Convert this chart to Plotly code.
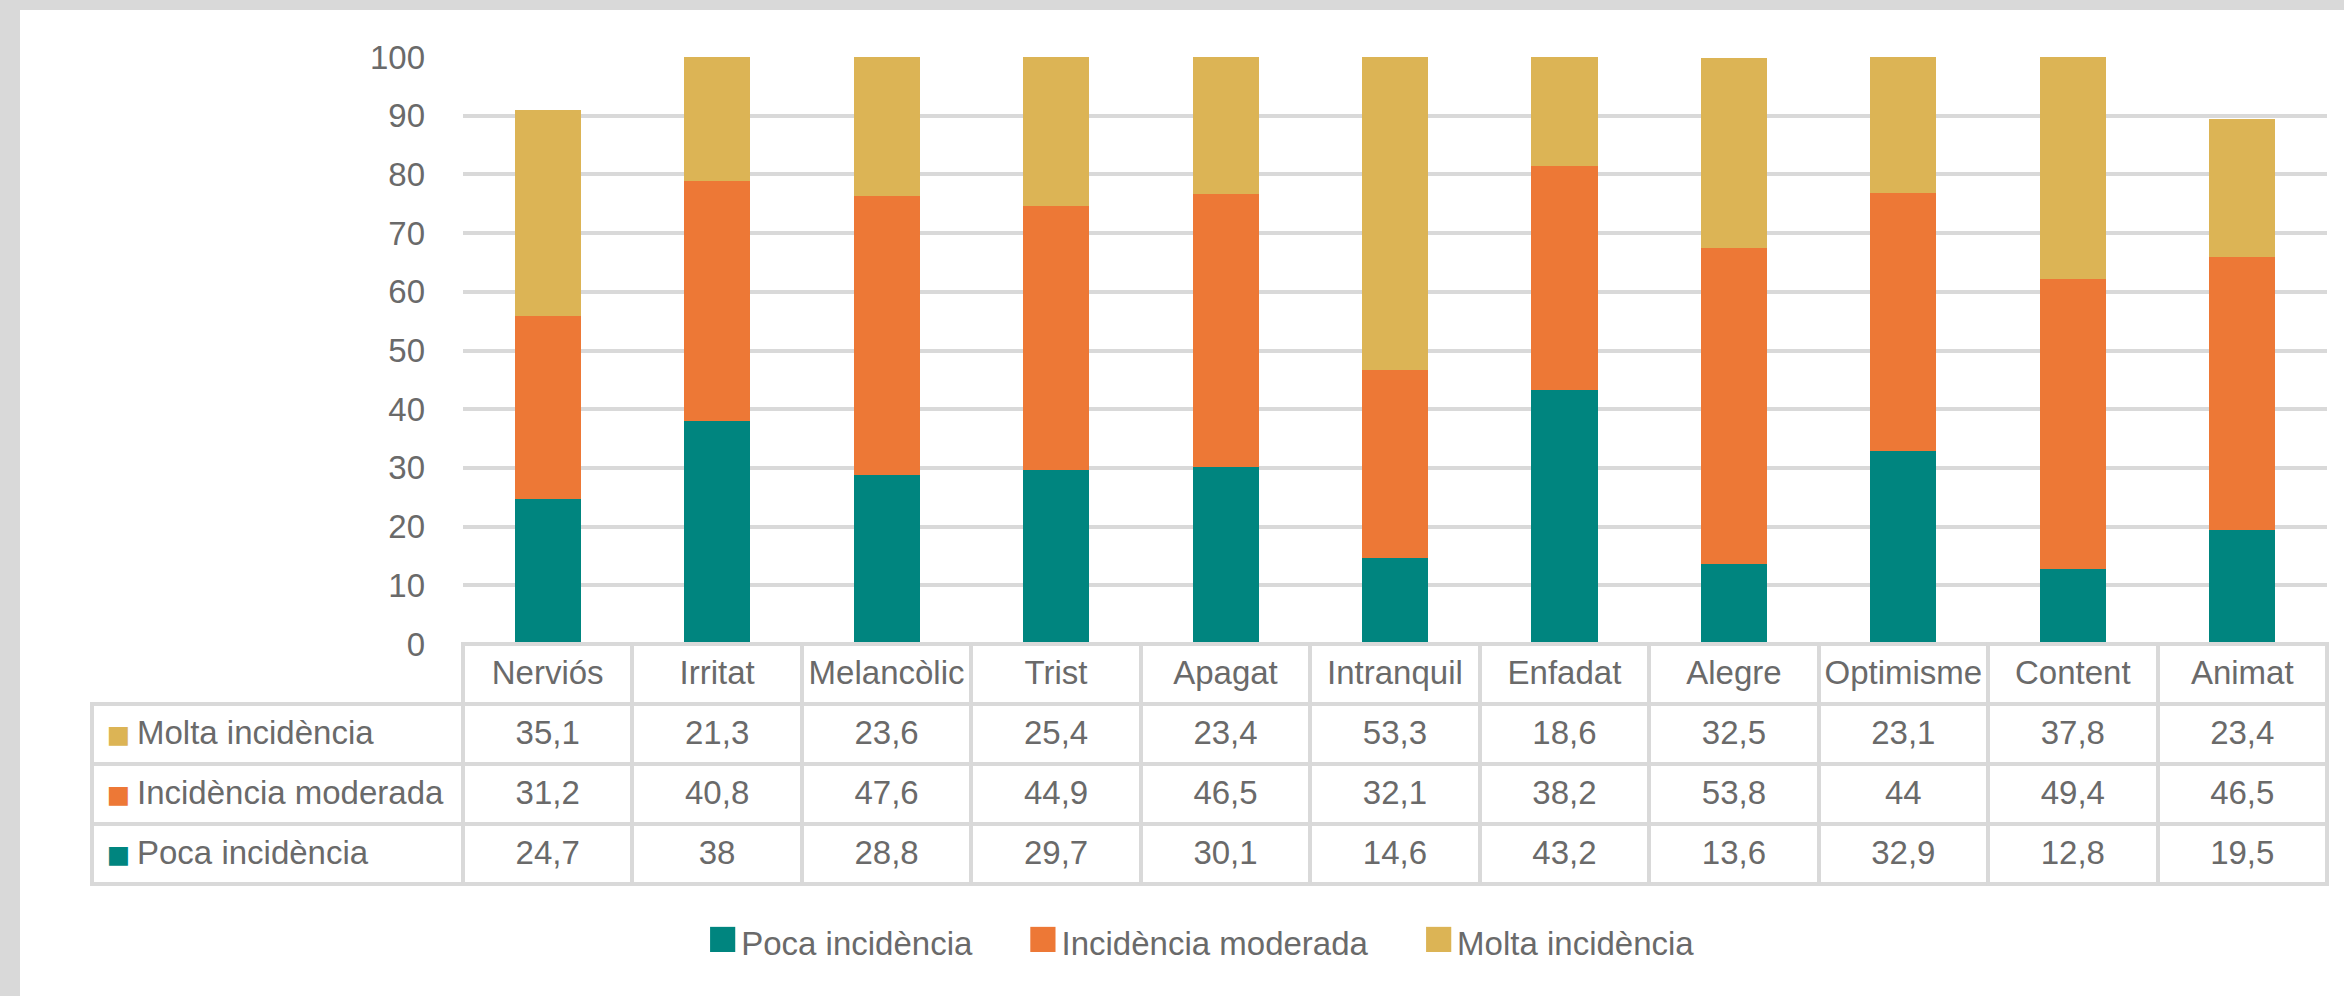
import plotly.graph_objects as go

# ---------------- data ----------------
categories = ["Nerviós", "Irritat", "Melancòlic", "Trist", "Apagat", "Intranquil",
              "Enfadat", "Alegre", "Optimisme", "Content", "Animat"]
poca = [24.7, 38, 28.8, 29.7, 30.1, 14.6, 43.2, 13.6, 32.9, 12.8, 19.5]
moderada = [31.2, 40.8, 47.6, 44.9, 46.5, 32.1, 38.2, 53.8, 44, 49.4, 46.5]
molta = [35.1, 21.3, 23.6, 25.4, 23.4, 53.3, 18.6, 32.5, 23.1, 37.8, 23.4]
series_names = ["Poca incidència", "Incidència moderada", "Molta incidència"]
y_ticks = [0, 10, 20, 30, 40, 50, 60, 70, 80, 90, 100]

# ---------------- style ----------------
W, H = 2344, 996
FONT = "Liberation Sans, Arial, sans-serif"
FS = 33
TEXT = "#6a6a6a"
GRID = "#d9d9d9"
COLORS = {"Poca incidència": "#00857F",
          "Incidència moderada": "#ED7836",
          "Molta incidència": "#DCB455"}
NONE = "rgba(0,0,0,0)"
NB = "\u00a0"


def fx(px):
    return px / W


def fy(py):
    return 1 - py / H


def fmt(v):
    return f"{v:g}".replace(".", ",")


series_values = {"Poca incidència": poca,
                 "Incidència moderada": moderada,
                 "Molta incidència": molta}

fig = go.Figure()
for name in series_names:
    fig.add_trace(go.Bar(x=categories, y=series_values[name], name=name,
                         marker=dict(color=COLORS[name], line=dict(width=0)),
                         hoverinfo="x+y+name"))

# ---------------- data table ----------------
table_rows = ["Molta incidència", "Incidència moderada", "Poca incidència"]
ncat = len(categories)
ROW_H = 60
TABLE_X = [fx(92), fx(2327)]
TEXT_Y = [0, fy(651)]

# grid of the table (cell borders)
fig.add_trace(go.Table(
    domain=dict(x=TABLE_X, y=[0, fy(644)]),
    columnwidth=[371] + [169.5] * ncat,
    header=dict(values=[""] * (ncat + 1), height=ROW_H,
                line=dict(color=[NONE] + [GRID] * ncat, width=4),
                fill=dict(color=NONE)),
    cells=dict(values=[[""] * len(table_rows)] * (ncat + 1), height=ROW_H,
               line=dict(color=GRID, width=4), fill=dict(color=NONE)),
))

# table contents: row labels and values
label_col = [n.replace(" ", NB) for n in table_rows]
value_cols = [[fmt(series_values[n][j]) for n in table_rows] for j in range(ncat)]
fig.add_trace(go.Table(
    domain=dict(x=TABLE_X, y=TEXT_Y),
    columnwidth=[37, 334] + [169.5] * ncat,
    header=dict(values=["", ""] + categories, height=ROW_H,
                align=["left", "left"] + ["center"] * ncat,
                line=dict(color=NONE, width=0), fill=dict(color=NONE),
                font=dict(family=FONT, size=FS, color=TEXT)),
    cells=dict(values=[[""] * len(table_rows), label_col] + value_cols,
               height=ROW_H,
               align=["left", "left"] + ["center"] * ncat,
               line=dict(color=NONE, width=0), fill=dict(color=NONE),
               font=dict(family=FONT, size=FS, color=TEXT)),
))

# colour keys in the label column
fig.add_trace(go.Table(
    domain=dict(x=[fx(92), fx(146)], y=TEXT_Y),
    columnwidth=[1],
    header=dict(values=[""], height=ROW_H, line=dict(color=NONE, width=0),
                fill=dict(color=NONE)),
    cells=dict(values=[["■"] * len(table_rows)], height=ROW_H, align="center",
               line=dict(color=NONE, width=0), fill=dict(color=NONE),
               font=dict(family=FONT, size=39,
                         color=[[COLORS[n] for n in table_rows]])),
))


# ---------------- legend (as text) ----------------
def swatch(name, size):
    return f'<span style="color:{COLORS[name]};font-size:{size}px">■</span>'


legend_text = (NB * 6).join(swatch(n, 52) + "\u200a" + n for n in series_names)
fig.add_annotation(text=legend_text, xref="paper", yref="paper",
                   x=fx(1200), y=fy(937), xanchor="center", yanchor="middle",
                   showarrow=False, font=dict(family=FONT, size=FS, color=TEXT))

# white sheet over grey frame
fig.add_shape(type="rect", xref="paper", yref="paper",
              x0=fx(20), x1=1, y0=0, y1=fy(10),
              fillcolor="white", line=dict(width=0), layer="below")

fig.update_layout(
    width=W, height=H,
    margin=dict(l=0, r=0, t=0, b=0, autoexpand=False),
    paper_bgcolor=GRID, plot_bgcolor="white",
    barmode="stack", bargap=0.61,
    showlegend=False,
    font=dict(family=FONT, size=FS, color=TEXT),
)
fig.update_xaxes(domain=[fx(463), fx(2327)], showticklabels=False,
                 showgrid=False, zeroline=False, showline=False, automargin=False,
                 categoryorder="array", categoryarray=categories)
fig.update_yaxes(domain=[fy(644), fy(57)], range=[0, 100], tickvals=y_ticks,
                 showgrid=True, gridcolor=GRID, gridwidth=4,
                 zeroline=False, showline=False, ticks="", automargin=False,
                 ticklabelstandoff=37,
                 tickfont=dict(family=FONT, size=FS, color=TEXT))

fig.write_html("out.html", config={"displayModeBar": False},
               post_script="document.body.style.margin='0';")
